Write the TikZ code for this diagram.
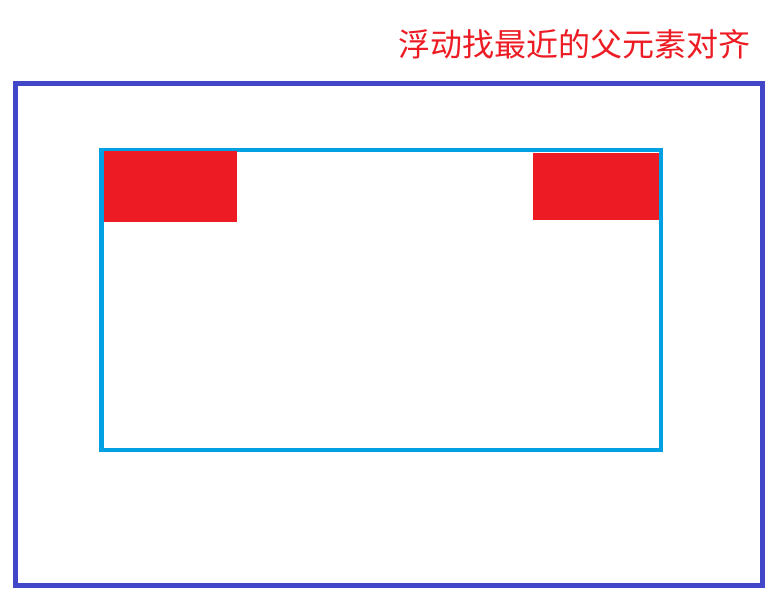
\documentclass[tikz,border=0pt]{standalone}
\usepackage{fontspec}
\newfontfamily\cjk{Noto Sans CJK SC}
\definecolor{outerblue}{RGB}{66,70,200}
\definecolor{innercyan}{RGB}{0,160,226}
\definecolor{boxred}{RGB}{237,28,36}
\begin{document}
\begin{tikzpicture}[x=1pt,y=-1pt,
  outerframe/.style={draw=outerblue,line width=5pt,inner sep=0pt,outer sep=0pt,anchor=north west},
  innerframe/.style={draw=innercyan,line width=4.5pt,inner sep=0pt,outer sep=0pt,anchor=north west},
  floatbox/.style={fill=boxred,draw=none,inner sep=0pt,outer sep=0pt,anchor=north west}]
\useasboundingbox (0,0) rectangle (782,605);
\fill[white] (0,0) rectangle (782,605);
\node[outerframe,minimum width=747pt,minimum height=502pt] (outer) at (15.5,83) {};
\node[innerframe,minimum width=559.5pt,minimum height=300pt] (inner) at (101.5,150) {};
\node[floatbox,minimum width=133pt,minimum height=71pt] (left) at (104,151) {};
\node[floatbox,minimum width=126.5pt,minimum height=66.5pt] (right) at (532.7,153.3) {};
\node[anchor=base east,inner sep=0pt,text=boxred,font=\cjk\fontsize{32}{32}\selectfont] (title) at (751,56.5) {浮动找最近的父元素对齐};
\end{tikzpicture}
\end{document}
